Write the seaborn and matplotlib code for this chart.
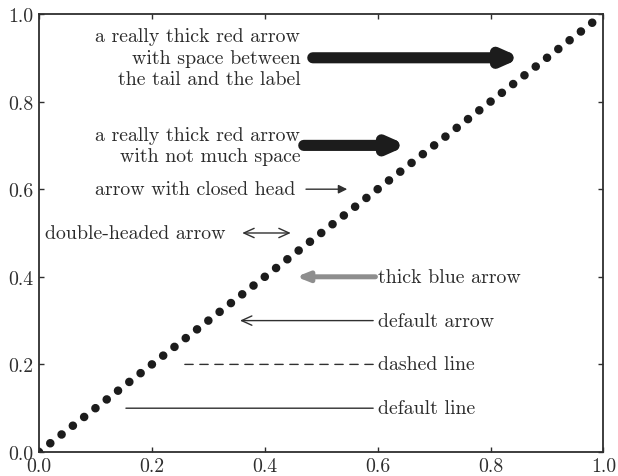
import numpy as np
import matplotlib
matplotlib.use("Agg")
import matplotlib.pyplot as plt
import seaborn as sns

# ── Data ──────────────────────────────────────────────────────
diag_x = [0.0, 1.0]
diag_y = [0.0, 1.0]

tick_vals = [0.0, 0.2, 0.4, 0.6, 0.8, 1.0]
tick_labels = ["0.0", "0.2", "0.4", "0.6", "0.8", "1.0"]

label_texts = [
    "a really thick red arrow\nwith space between\nthe tail and the label",
    "a really thick red arrow\nwith not much space",
    "arrow with closed head",
    "double-headed arrow",
    "thick blue arrow",
    "default arrow",
    "dashed line",
    "default line",
]
label_x = [0.1, 0.1, 0.1, 0.01, 0.6, 0.6, 0.6, 0.6]
label_y = [0.9, 0.7, 0.6, 0.5, 0.4, 0.3, 0.2, 0.1]

# arrow tail / head x (y is the label's y)
arrow_tail_x = [0.485, 0.469, 0.473, 0.360, 0.596, 0.592, 0.592, 0.592]
arrow_head_x = [0.855, 0.653, 0.546, 0.446, 0.456, 0.356, 0.255, 0.154]

# ── Style ─────────────────────────────────────────────────────
sns.set_theme(style="white")
FS = 14.3
plt.rcParams.update({
    "font.family": ["cmr10", "DejaVu Serif"],
    "axes.formatter.use_mathtext": True,
    "font.size": FS,
    "axes.edgecolor": "#2e2e2e",
    "axes.linewidth": 1.3,
    "xtick.color": "#2e2e2e",
    "ytick.color": "#2e2e2e",
    "xtick.direction": "in",
    "ytick.direction": "in",
    "xtick.top": True,
    "ytick.right": True,
    "xtick.bottom": True,
    "ytick.left": True,
    "xtick.labelsize": FS,
    "ytick.labelsize": FS,
})

TEXT_C = "#2b2b2b"
DARK = "#1c1c1c"
LINE_C = "#303030"
GREY = "#8e8e8e"
DOT_LW = 6.2

ARROW_STYLES = [
    dict(arrowstyle="-|>,head_length=0.45,head_width=0.2", lw=8, color=DARK,
         mutation_scale=20, capstyle="round"),
    dict(arrowstyle="-|>,head_length=0.45,head_width=0.2", lw=8, color=DARK,
         mutation_scale=20, capstyle="round"),
    dict(arrowstyle="-|>,head_length=0.4,head_width=0.2", lw=1, color=LINE_C,
         mutation_scale=13),
    dict(arrowstyle="<->,head_length=0.55,head_width=0.25", lw=1, color=LINE_C,
         mutation_scale=13.4),
    dict(arrowstyle="-|>,head_length=0.5,head_width=0.2", lw=3.6, color=GREY,
         mutation_scale=14, capstyle="round"),
    dict(arrowstyle="->,head_length=0.55,head_width=0.25", lw=1, color=LINE_C,
         mutation_scale=13.4),
    dict(arrowstyle="-", lw=1, color=LINE_C, linestyle=(0, (6.0, 4.8))),
    dict(arrowstyle="-", lw=1, color=LINE_C),
]

fig = plt.figure(figsize=(6.18, 4.77), dpi=100)
ax = fig.add_axes([0.0631, 0.0503, 0.9134, 0.9183])

# dotted diagonal
sns.lineplot(x=diag_x, y=diag_y, ax=ax, color=DARK, linewidth=DOT_LW)
line = ax.lines[0]
pos = ax.get_position()
diag_pt = np.hypot(pos.width * fig.get_figwidth(),
                   pos.height * fig.get_figheight()) * 72
period = diag_pt / 50 / DOT_LW
line.set_dashes((0.001, period - 0.001))
line.set_dash_capstyle("round")

for txt, x, y in zip(label_texts, label_x, label_y):
    ax.text(x, y, txt, ha="left", va="center", multialignment="right",
            color=TEXT_C, fontsize=FS, linespacing=1.25)

for tx, hx, y, st in zip(arrow_tail_x, arrow_head_x, label_y, ARROW_STYLES):
    props = dict(st)
    props.update(shrinkA=0, shrinkB=0)
    ax.annotate("", xy=(hx, y), xytext=(tx, y), arrowprops=props)

ax.set_xlim(0, 1)
ax.set_ylim(0, 1)
ax.set_xticks(tick_vals, tick_labels)
ax.set_yticks(tick_vals, tick_labels)
ax.tick_params(which="both", length=3.5, width=1.0, pad=4)

fig.savefig("out.png", dpi=100)
